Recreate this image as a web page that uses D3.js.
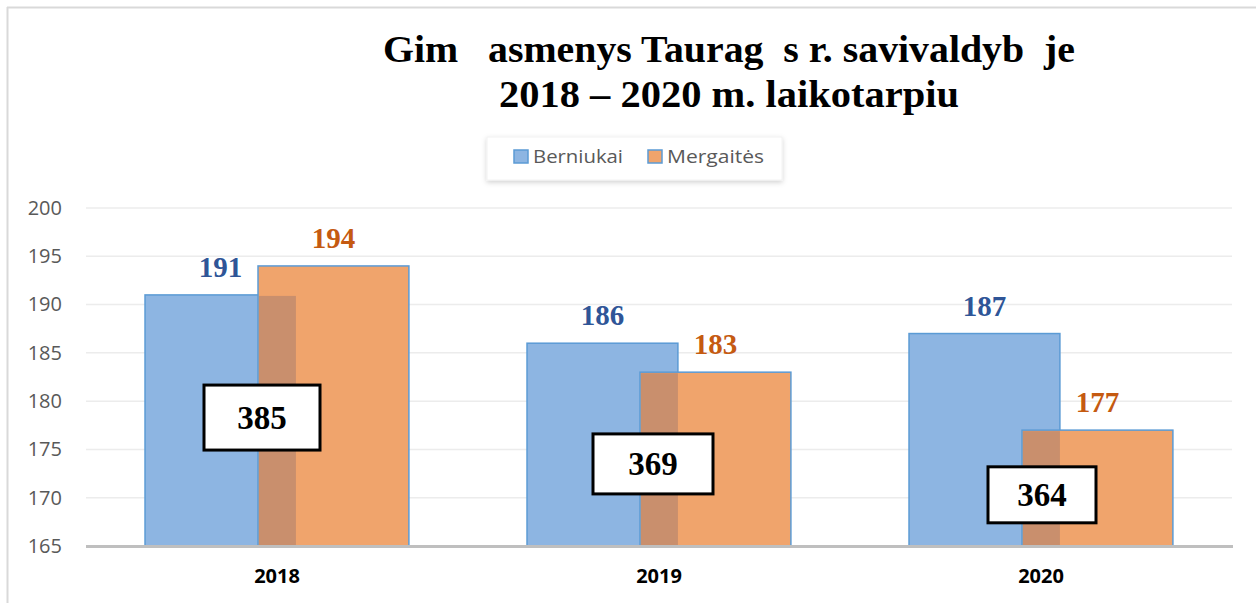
<!DOCTYPE html>
<html>
<head>
<meta charset="utf-8">
<script src="https://cdn.jsdelivr.net/npm/d3@7"></script>
<style>
  body { margin: 0; background: #fff; }
  svg { display: block; }
</style>
</head>
<body>
<svg id="chart" width="1256" height="603"></svg>
<script>
// chart values
var years = ["2018", "2019", "2020"];
var boys = [191, 186, 187];
var girls = [194, 183, 177];
var totals = [385, 369, 364];
var yTicks = [165, 170, 175, 180, 185, 190, 195, 200];
var seriesNames = ["Berniukai", "Mergaitės"];
var titleLines = ["Gim   asmenys Taurag  s r. savivaldyb  je", "2018 – 2020 m. laikotarpiu"];

// where the total boxes sit (axis units) and how they are nudged/sized
var boxCenter = [178.3, 173.5, 170.3];
var boxShift = [-15, -6, 1];
var boxSize = [[116, 65], [120, 60], [108, 56]];

var svg = d3.select("#chart");
var width = +svg.attr("width");
var height = +svg.attr("height");

var blueFill = "#8db5e2", orangeFill = "#f0a46c", mixFill = "#c98f6d";
var edge = "#5b9bd5";

// drop shadow for the legend
var defs = svg.append("defs");
var f = defs.append("filter").attr("id", "shadow")
    .attr("x", "-10%").attr("y", "-30%").attr("width", "120%").attr("height", "170%");
f.append("feDropShadow").attr("dx", 0).attr("dy", 2).attr("stdDeviation", 2.5)
    .attr("flood-color", "#000").attr("flood-opacity", 0.18);

// outer frame (only top and left edges show)
svg.append("line").attr("x1", 7).attr("x2", width).attr("y1", 7.5).attr("y2", 7.5)
    .attr("stroke", "#d9d9d9").attr("stroke-width", 2);
svg.append("line").attr("x1", 7.5).attr("x2", 7.5).attr("y1", 7).attr("y2", height)
    .attr("stroke", "#d9d9d9").attr("stroke-width", 2);

// scales
var x = d3.scaleBand().domain(years).range([86, 1232]).padding(0);
var y = d3.scaleLinear().domain([165, 200]).range([546, 208]);
var bw = x.bandwidth();
var barW = bw * 0.395;
var blueOff = -bw * 0.3455;
var orangeOff = -bw * 0.0497;
function cx(d) { return x(d) + bw / 2; }

// gridlines
svg.append("g")
    .selectAll("line").data(yTicks.slice(1)).join("line")
    .attr("x1", 86).attr("x2", 1232)
    .attr("y1", d => y(d)).attr("y2", d => y(d))
    .attr("stroke", "#ececec").attr("stroke-width", 1.5);

// y axis labels
var yAxis = d3.axisLeft(y).tickValues(yTicks).tickSize(0).tickPadding(0);
var gy = svg.append("g").attr("transform", "translate(62,0)").call(yAxis);
gy.select(".domain").remove();
gy.selectAll("text")
    .attr("font-family", "'Open Sans', sans-serif")
    .attr("font-size", 20)
    .attr("fill", "#595959");

// bars: boys behind, girls in front
var rows = years.map(function (yr, i) {
    return { year: yr, boy: boys[i], girl: girls[i], total: totals[i], i: i };
});

svg.append("g").selectAll("rect").data(rows).join("rect")
    .attr("x", d => cx(d.year) + blueOff)
    .attr("y", d => y(d.boy))
    .attr("width", barW)
    .attr("height", d => y(165) - y(d.boy))
    .attr("fill", blueFill)
    .attr("stroke", edge).attr("stroke-width", 1.5);

svg.append("g").selectAll("rect").data(rows).join("rect")
    .attr("x", d => cx(d.year) + orangeOff)
    .attr("y", d => y(d.girl))
    .attr("width", barW)
    .attr("height", d => y(165) - y(d.girl))
    .attr("fill", orangeFill)
    .attr("stroke", edge).attr("stroke-width", 1.5);

// where the two bars overlap the colour goes brownish
svg.append("g").selectAll("rect").data(rows).join("rect")
    .attr("x", d => cx(d.year) + orangeOff + 1)
    .attr("y", d => y(Math.min(d.boy, d.girl)) + 1)
    .attr("width", blueOff + barW - orangeOff - 1)
    .attr("height", d => y(165) - y(Math.min(d.boy, d.girl)) - 1)
    .attr("fill", mixFill);

// baseline
svg.append("line").attr("x1", 86).attr("x2", 1233)
    .attr("y1", y(165) + 0.5).attr("y2", y(165) + 0.5)
    .attr("stroke", "#bfbfbf").attr("stroke-width", 3);

// value labels
svg.append("g").selectAll("text").data(rows).join("text")
    .attr("x", d => cx(d.year) + blueOff + barW / 2)
    .attr("y", d => y(d.boy) - 18)
    .attr("text-anchor", "middle")
    .attr("font-family", "'Liberation Serif', serif")
    .attr("font-weight", "bold").attr("font-size", 29)
    .attr("fill", "#2f5597")
    .text(d => d.boy);

svg.append("g").selectAll("text").data(rows).join("text")
    .attr("x", d => cx(d.year) + orangeOff + barW / 2)
    .attr("y", d => y(d.girl) - 18)
    .attr("text-anchor", "middle")
    .attr("font-family", "'Liberation Serif', serif")
    .attr("font-weight", "bold").attr("font-size", 29)
    .attr("fill", "#c55a11")
    .text(d => d.girl);

// total boxes
var boxes = svg.append("g").selectAll("g").data(rows).join("g")
    .attr("transform", d => "translate(" + (cx(d.year) + boxShift[d.i]) + "," + y(boxCenter[d.i]) + ")");
boxes.append("rect")
    .attr("x", d => -boxSize[d.i][0] / 2)
    .attr("y", d => -boxSize[d.i][1] / 2)
    .attr("width", d => boxSize[d.i][0])
    .attr("height", d => boxSize[d.i][1])
    .attr("fill", "#fff").attr("stroke", "#000").attr("stroke-width", 3);
boxes.append("text")
    .attr("text-anchor", "middle").attr("dy", "0.35em")
    .attr("font-family", "'Liberation Serif', serif")
    .attr("font-weight", "bold").attr("font-size", 33)
    .attr("fill", "#000")
    .text(d => d.total);

// x axis labels
var xAxis = d3.axisBottom(x).tickSize(0).tickPadding(0);
var gx = svg.append("g").attr("transform", "translate(0,569)").call(xAxis);
gx.select(".domain").remove();
gx.selectAll("text")
    .attr("font-family", "'Open Sans', sans-serif")
    .attr("font-weight", "bold").attr("font-size", 20)
    .attr("fill", "#000");

// title (keep the gaps where letters are missing)
svg.append("g").selectAll("text").data(titleLines).join("text")
    .attr("x", 729)
    .attr("y", (d, i) => 62 + i * 45)
    .attr("text-anchor", "middle")
    .attr("font-family", "'Liberation Serif', serif")
    .attr("font-weight", "bold").attr("font-size", 37)
    .attr("textLength", (d, i) => i === 0 ? 692 : 460)
    .attr("lengthAdjust", "spacingAndGlyphs")
    .style("white-space", "pre")
    .attr("fill", "#000")
    .text(d => d);

// legend
var legend = svg.append("g");
legend.append("rect")
    .attr("x", 487).attr("y", 137).attr("width", 295).attr("height", 43)
    .attr("fill", "#fff").attr("stroke", "#f2f2f2")
    .attr("filter", "url(#shadow)");
var items = legend.selectAll("g").data(seriesNames).join("g")
    .attr("transform", (d, i) => "translate(" + (i === 0 ? 514 : 648) + ",150)");
items.append("rect")
    .attr("width", 14).attr("height", 13)
    .attr("fill", (d, i) => i === 0 ? blueFill : orangeFill)
    .attr("stroke", edge).attr("stroke-width", 1.5);
items.append("text")
    .attr("x", 19).attr("y", 13)
    .attr("font-family", "'Open Sans', sans-serif")
    .attr("font-size", 18)
    .attr("textLength", (d, i) => i === 0 ? 90 : 97)
    .attr("lengthAdjust", "spacingAndGlyphs")
    .attr("fill", "#595959")
    .text(d => d);
</script>
</body>
</html>
